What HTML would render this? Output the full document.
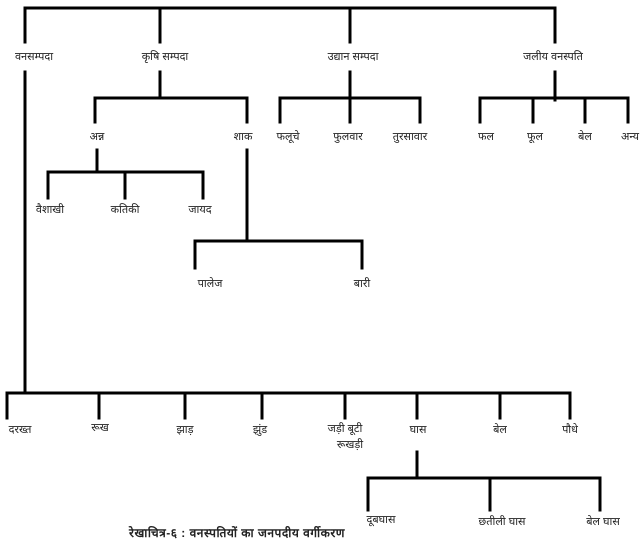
<!DOCTYPE html>
<html><head><meta charset="utf-8"><style>
html,body{margin:0;padding:0;background:#fff}
svg{display:block}
text{font-family:"Liberation Sans","Noto Sans CJK SC",sans-serif;font-size:11px;fill:#222;text-anchor:middle}
</style></head><body>
<svg width="640" height="545" viewBox="0 0 640 545">
<g stroke="#000" stroke-width="3" fill="none" stroke-linecap="square">
<path d="M25 8H555M25 8V42M160 8V42M350 8V42M555 8V42"/>
<path d="M25 72V392M7 393H570M7 393V418M99 393V418M185 393V418M262 393V418M345 393V418M417 393V418M500 393V418M570 393V418"/>
<path d="M417 452V478M368 478H600M368 478V510M490 478V510M600 478V510"/>
<path d="M160 72V98M95 98H247M95 98V122M247 98V122"/>
<path d="M97 150V172M48 172H203M48 172V198M125 172V198M203 172V198"/>
<path d="M247 150V241M195 241H362M195 241V268M362 241V268"/>
<path d="M350 72V98M280 98H420M280 98V122M350 98V122M420 98V122"/>
<path d="M555 72V100M480 98H628M480 98V122M533 98V122M585 98V122M628 98V122"/>
</g>
<text x="34" y="60">वनसम्पदा</text>
<text x="165" y="60">कृषि सम्पदा</text>
<text x="353" y="60">उद्यान सम्पदा</text>
<text x="553" y="60">जलीय वनस्पति</text>
<text x="97" y="140">अन्न</text>
<text x="243" y="140">शाक</text>
<text x="288" y="140">फलूचे</text>
<text x="348" y="140">फुलवार</text>
<text x="410" y="140">तुरसावार</text>
<text x="486" y="140">फल</text>
<text x="535" y="140">फूल</text>
<text x="585" y="140">बेल</text>
<text x="630" y="140">अन्य</text>
<text x="50" y="213">वैशाखी</text>
<text x="125" y="213">कतिकी</text>
<text x="200" y="213">जायद</text>
<text x="210" y="287">पालेज</text>
<text x="362" y="287">बारी</text>
<text x="20" y="433">दरख्त</text>
<text x="100" y="431">रूख</text>
<text x="185" y="433">झाड़</text>
<text x="260" y="433">झुंड</text>
<text x="345" y="432">जड़ी बूटी</text>
<text x="350" y="448">रूखड़ी</text>
<text x="418" y="433">घास</text>
<text x="500" y="433">बेल</text>
<text x="570" y="433">पौधे</text>
<text x="381" y="523">दूबघास</text>
<text x="502" y="525">छतीली घास</text>
<text x="603" y="525">बेल घास</text>
<text x="237" y="537" style="font-weight:bold;font-size:12px;letter-spacing:0.5px">रेखाचित्र-६ : वनस्पतियों का जनपदीय वर्गीकरण</text>
</svg>
</body></html>
